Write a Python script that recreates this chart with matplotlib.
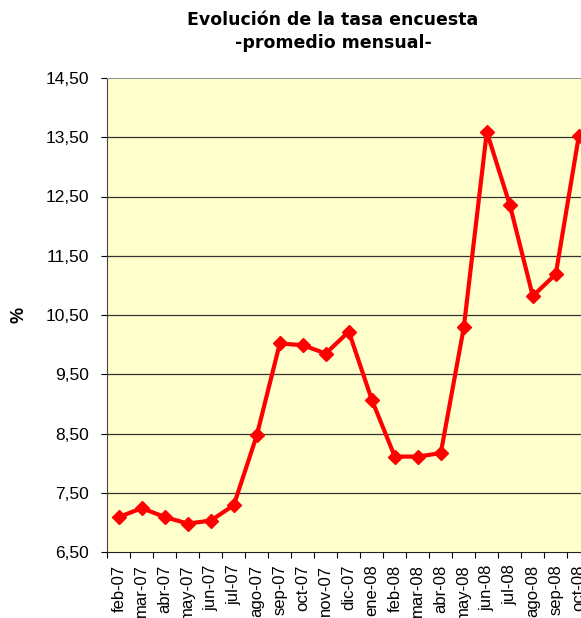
# Evolución de la tasa encuesta - promedio mensual (line chart with diamond markers)
import matplotlib
matplotlib.use('Agg')
import matplotlib.pyplot as plt
import numpy as np

plt.rcParams['font.family'] = ['Liberation Sans', 'DejaVu Sans']

# Data
meses = ['feb-07', 'mar-07', 'abr-07', 'may-07', 'jun-07', 'jul-07', 'ago-07',
         'sep-07', 'oct-07', 'nov-07', 'dic-07', 'ene-08', 'feb-08', 'mar-08',
         'abr-08', 'may-08', 'jun-08', 'jul-08', 'ago-08', 'sep-08', 'oct-08']
tasa = [7.09, 7.24, 7.09, 6.98, 7.03, 7.29, 8.47, 10.02, 9.99, 9.85, 10.22,
        9.07, 8.11, 8.11, 8.17, 10.29, 13.59, 12.36, 10.82, 11.19, 13.52]
yticks = [6.5, 7.5, 8.5, 9.5, 10.5, 11.5, 12.5, 13.5, 14.5]

W, H = 581, 618
fig = plt.figure(figsize=(W / 100, H / 100), dpi=100)
# plot area runs past the right edge of the picture (clipped like the original)
ax_w = 590.3 - 107.3
ax = fig.add_axes([107.3 / W, (H - 552) / H, ax_w / W, (552 - 78) / H])
ax.set_facecolor('#FFFFCC')

x = np.arange(len(meses))
ax.plot(x, tasa, color='#FF0000', lw=3, marker='D', ms=7.5, clip_on=False, zorder=3)

ax.set_xlim(-0.5, len(meses) - 0.5)
ax.set_ylim(6.5, 14.5)

# y axis
ax.set_yticks(yticks)
ax.set_yticklabels([f"{v:.2f}".replace('.', ',') for v in yticks], fontsize=12.5)
ax.tick_params(axis='y', direction='out', length=4, width=0.8, pad=9)
for v in yticks[1:-1]:
    ax.axhline(v, color='#333333', lw=0.9, zorder=1)

# x axis: labels centred on categories, tick marks on boundaries
ax.set_xticks(x)
ax.set_xticklabels(meses, rotation=90, fontsize=12, va='top')
ax.tick_params(axis='x', which='major', length=0, pad=9)
ax.set_xticks(np.arange(len(meses)) - 0.5, minor=True)
ax.tick_params(axis='x', which='minor', direction='out', length=4, width=0.8)

ax.spines['right'].set_visible(False)
ax.spines['top'].set_color('#999999')
ax.spines['left'].set_color('#444444')
ax.spines['bottom'].set_color('#222222')

ax.set_ylabel('%', fontsize=13, fontweight='bold')
ax.yaxis.set_label_coords(-80 / ax_w, 0.5)

fig.text(333 / W, 1 - 20 / H, 'Evolución de la tasa encuesta', ha='center', va='center',
         fontsize=12.5, fontweight='bold', family='DejaVu Sans')
fig.text(333 / W, 1 - 43 / H, '-promedio mensual-', ha='center', va='center',
         fontsize=12.5, fontweight='bold', family='DejaVu Sans')

plt.savefig('out.png', dpi=100)
